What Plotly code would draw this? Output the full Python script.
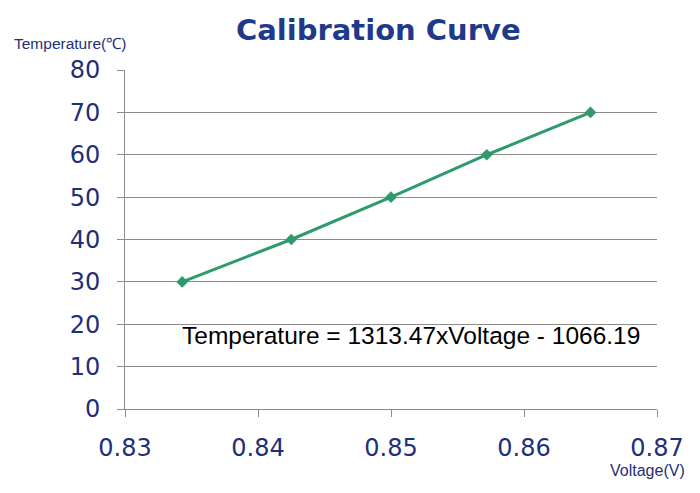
import plotly.graph_objects as go

# data
voltage = [0.8343, 0.8425, 0.8500, 0.8572, 0.8650]
temperature = [30, 40, 50, 60, 70]
x_ticks = [0.83, 0.84, 0.85, 0.86, 0.87]
y_ticks = [0, 10, 20, 30, 40, 50, 60, 70, 80]

NAVY = "#1f2f78"
TITLE_BLUE = "#1f3a8a"
GREEN = "#2e9b6c"
GRID = "#8c8c8c"

fig = go.Figure()

fig.add_trace(go.Scatter(
    x=voltage, y=temperature,
    mode="lines+markers",
    line=dict(color=GREEN, width=3),
    marker=dict(symbol="diamond", size=9, color=GREEN),
    showlegend=False,
))

# page adds an 8px body margin, so the margins are shifted to compensate
fig.update_layout(
    width=700, height=493,
    paper_bgcolor="white", plot_bgcolor="white",
    margin=dict(l=117, r=51, t=62, b=92),
    title=dict(
        text="<b>Calibration Curve</b>",
        font=dict(family="DejaVu Sans", size=29, color=TITLE_BLUE),
        x=0.529, xanchor="center", y=0.955, yanchor="middle",
    ),
    xaxis=dict(
        range=[0.83, 0.87], tickvals=x_ticks,
        ticktext=[f"{v:.2f}" for v in x_ticks],
        showgrid=False, zeroline=False,
        showline=True, linecolor=GRID, linewidth=1,
        ticks="outside", ticklen=7, tickcolor=GRID,
        ticklabelstandoff=10,
        tickfont=dict(family="DejaVu Sans", size=24, color=NAVY),
    ),
    yaxis=dict(
        range=[0, 80], tickvals=y_ticks,
        showgrid=True, gridcolor=GRID, gridwidth=1, zeroline=False,
        showline=True, linecolor=GRID, linewidth=1,
        ticks="outside", ticklen=7, tickcolor=GRID,
        ticklabelstandoff=12,
        tickfont=dict(family="DejaVu Sans", size=24, color=NAVY),
    ),
)

fig.add_annotation(
    text="Temperature(℃)", xref="paper", yref="paper",
    x=-0.212, y=1.077, xanchor="left", yanchor="middle", showarrow=False,
    font=dict(family="Liberation Sans", size=15.5, color=NAVY),
)
fig.add_annotation(
    text="Voltage(V)", xref="paper", yref="paper",
    x=1.056, y=-0.18, xanchor="right", yanchor="middle", showarrow=False,
    font=dict(family="Liberation Sans", size=16, color=NAVY),
)
fig.add_annotation(
    text="Temperature = 1313.47xVoltage - 1066.19", xref="paper", yref="paper",
    x=0.103, y=0.218, xanchor="left", yanchor="middle", showarrow=False,
    font=dict(family="Liberation Sans", size=24.5, color="black"),
)

fig.write_html("out.html")
